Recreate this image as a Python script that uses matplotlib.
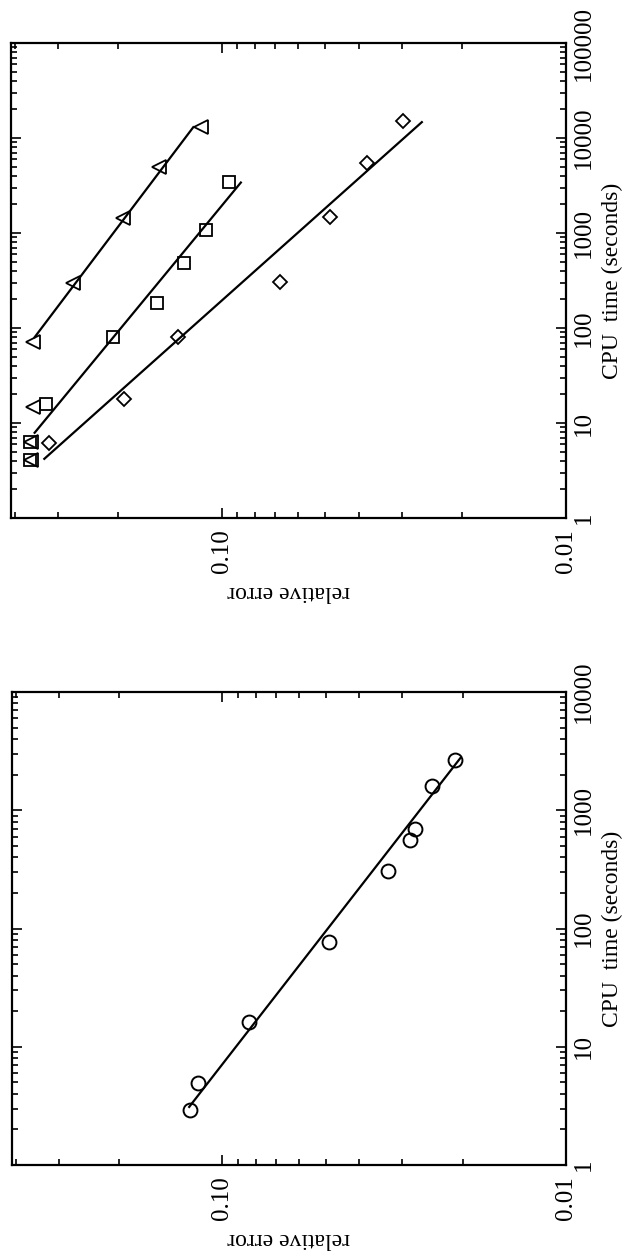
import matplotlib
matplotlib.use("Agg")
import matplotlib.pyplot as plt
from matplotlib.ticker import LogLocator, NullFormatter

plt.rcParams['font.family'] = ['Liberation Serif', 'DejaVu Serif']

# top panel: three methods
tri_err = [0.115, 0.152, 0.194, 0.270, 0.353, 0.353, 0.358, 0.358]
tri_cpu = [13000, 4950, 1440, 298, 71, 14.7, 6.3, 4.1]
tri_fit_err = [0.35, 0.121]
tri_fit_cpu = [80, 13000]

sq_err = [0.0955, 0.111, 0.129, 0.154, 0.207, 0.324, 0.36, 0.36]
sq_cpu = [3440, 1075, 483, 183, 80, 15.9, 6.3, 4.1]
sq_fit_err = [0.35, 0.088]
sq_fit_cpu = [7.9, 3400]

dia_err = [0.0297, 0.0378, 0.0483, 0.0675, 0.134, 0.192, 0.317]
dia_cpu = [15100, 5460, 1475, 305, 80, 17.9, 6.2]
dia_fit_err = [0.328, 0.0262]
dia_fit_cpu = [4.2, 14700]

# bottom panel
circ_err = [0.0211, 0.0246, 0.0275, 0.0284, 0.033, 0.0491, 0.0837, 0.118, 0.124]
circ_cpu = [2655, 1610, 689, 565, 306, 77.6, 16.2, 4.9, 2.92]
circ_fit_err = [0.125, 0.0203]
circ_fit_cpu = [3.1, 2763]

err_ticks = [0.1, 0.01]
err_labels = ["0.10", "0.01"]
cpu_ticks_top = [1, 10, 100, 1000, 10000, 100000]
cpu_ticks_bot = [1, 10, 100, 1000, 10000]


def style_axes(ax, cpu_ticks):
    ax.set_xscale('log')
    ax.set_yscale('log')
    ax.set_xlim(0.41, 0.01)
    ax.set_ylim(cpu_ticks[0], cpu_ticks[-1])
    ax.set_xticks(err_ticks)
    ax.set_xticklabels(err_labels)
    ax.set_yticks(cpu_ticks)
    ax.set_yticklabels([str(t) for t in cpu_ticks])
    ax.xaxis.set_minor_locator(LogLocator(base=10, subs=range(2, 10)))
    ax.yaxis.set_minor_locator(LogLocator(base=10, subs=range(2, 10), numticks=20))
    ax.xaxis.set_minor_formatter(NullFormatter())
    ax.yaxis.set_minor_formatter(NullFormatter())
    ax.tick_params(which='both', direction='in', top=True, bottom=True,
                   left=True, right=True, labelleft=False, labelright=True,
                   width=1.2, labelsize=18)
    ax.tick_params(which='major', length=7)
    ax.tick_params(which='minor', length=4)
    ax.tick_params(axis='x', pad=8)
    ax.tick_params(axis='y', pad=5)
    plt.setp(ax.get_xticklabels(), rotation=90, ha='center', va='top')
    plt.setp(ax.get_yticklabels(), rotation=90, ha='left', va='center')
    for s in ax.spines.values():
        s.set_linewidth(1.6)
    ax.yaxis.set_label_position('right')
    ax.set_ylabel("CPU  time (seconds)", fontsize=17, rotation=90, labelpad=5)
    ax.set_xlabel("relative error", fontsize=17, rotation=180, labelpad=6)


fig = plt.figure(figsize=(6.24, 12.58), dpi=100)

ax1 = fig.add_axes([0.0176, 0.5882, 0.889, 0.3776])
ax1.plot(tri_fit_err, tri_fit_cpu, 'k-', lw=1.6)
ax1.plot(sq_fit_err, sq_fit_cpu, 'k-', lw=1.6)
ax1.plot(dia_fit_err, dia_fit_cpu, 'k-', lw=1.6)
ax1.plot(tri_err, tri_cpu, '<', ms=10, mfc='none', mec='k', mew=1.3, ls='none')
ax1.plot(sq_err, sq_cpu, 's', ms=9, mfc='none', mec='k', mew=1.3, ls='none')
ax1.plot(dia_err, dia_cpu, 'D', ms=7.5, mfc='none', mec='k', mew=1.3, ls='none')
style_axes(ax1, cpu_ticks_top)

ax2 = fig.add_axes([0.0192, 0.0739, 0.8878, 0.376])
ax2.plot(circ_fit_err, circ_fit_cpu, 'k-', lw=1.6)
ax2.plot(circ_err, circ_cpu, 'o', ms=10, mfc='none', mec='k', mew=1.4, ls='none')
style_axes(ax2, cpu_ticks_bot)

fig.savefig("out.png", dpi=100)
